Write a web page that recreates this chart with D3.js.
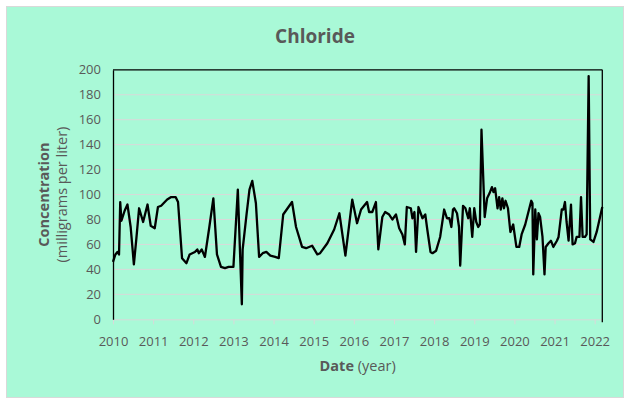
<!DOCTYPE html>
<html><head><meta charset="utf-8">
<script src="https://cdn.jsdelivr.net/npm/d3@7"></script>
<style>body{margin:0;background:#fff}svg{display:block}text{font-family:"Open Sans",sans-serif;fill:#595959}</style>
</head><body>
<script>
const title = "Chloride";
const yTicks = [0,20,40,60,80,100,120,140,160,180,200];
const xTicks = [2010,2011,2012,2013,2014,2015,2016,2017,2018,2019,2020,2021,2022];
const dates = [2010.00,2010.06,2010.11,2010.15,2010.18,2010.21,2010.29,2010.36,2010.44,2010.52,2010.58,2010.65,2010.75,2010.86,2010.94,
2011.04,2011.12,2011.20,2011.35,2011.45,2011.56,2011.62,2011.72,2011.83,2011.91,
2012.04,2012.10,2012.14,2012.21,2012.29,2012.40,2012.50,2012.59,2012.69,2012.79,2012.88,
2013.00,2013.11,2013.21,2013.23,2013.33,2013.40,2013.47,2013.56,2013.64,2013.73,2013.82,2013.92,
2014.04,2014.13,2014.24,2014.46,2014.56,2014.71,2014.81,2014.96,
2015.09,2015.16,2015.34,2015.51,2015.64,2015.79,2015.96,
2016.08,2016.18,2016.33,2016.38,2016.46,2016.55,2016.61,2016.71,2016.78,2016.88,2016.96,
2017.05,2017.13,2017.21,2017.27,2017.32,2017.42,2017.46,2017.51,2017.55,2017.61,2017.71,2017.78,2017.83,2017.91,2017.96,
2018.05,2018.15,2018.25,2018.32,2018.38,2018.43,2018.47,2018.50,2018.57,2018.62,2018.65,2018.72,2018.78,2018.85,2018.89,2018.95,
2019.00,2019.05,2019.10,2019.14,2019.18,2019.26,2019.32,2019.38,2019.44,2019.48,2019.52,2019.55,2019.58,2019.62,2019.66,2019.70,2019.74,2019.78,2019.84,2019.90,2019.97,
2020.05,2020.12,2020.18,2020.27,2020.42,2020.45,2020.47,2020.52,2020.56,2020.60,2020.64,2020.70,2020.75,2020.78,2020.85,2020.91,2020.97,
2021.06,2021.10,2021.18,2021.22,2021.26,2021.30,2021.35,2021.41,2021.45,2021.51,2021.55,2021.62,2021.66,2021.70,2021.76,2021.80,2021.85,2021.89,2021.97,
2022.05,2022.19];
const values = [46,52,54,52,94,79,87,92,74,44,64,89,78,92,75,
73,90,91,96,98,98,94,49,45,52,
54,56,53,56,50,74,97,52,42,41,42,
42,104,12,56,85,104,111,93,50,53,54,51,
50,49,84,94,74,58,57,59,
52,53,61,72,85,51,96,
77,88,94,86,86,94,56,82,86,84,80,
84,73,68,60,90,89,81,86,54,90,81,84,72,54,53,
55,66,88,81,81,74,88,89,85,74,43,91,89,81,89,66,
89,78,74,76,152,82,97,101,106,102,105,97,89,98,88,97,89,95,89,70,76,
58,58,68,76,95,93,36,88,64,85,82,66,36,58,61,63,58,
63,66,88,88,94,78,63,92,60,61,66,66,98,66,66,68,195,64,62,
70,90];

const W = 630, H = 404;
const svg = d3.select("body").append("svg").attr("width", W).attr("height", H);
svg.append("rect").attr("x",6.5).attr("y",6.5).attr("width",617).attr("height",391)
  .attr("fill","#a9f9d7").attr("stroke","#d9d9d9").attr("stroke-width",1);

const L = 113, R = 602.3, T = 69.8, B = 319.3;
const x = d3.scaleLinear().domain([2010, 2022.19]).range([L, R]);
const y = d3.scaleLinear().domain([0, 200]).range([B, T]);

// gridlines
svg.append("g").selectAll("line").data(yTicks.filter(d=>d>0 && d<200)).join("line")
  .attr("x1",L).attr("x2",R).attr("y1",d=>y(d)).attr("y2",d=>y(d))
  .attr("stroke","#d9d9d9").attr("stroke-width",1);

// x axis
const xa = svg.append("g").attr("transform",`translate(0,${B})`)
  .call(d3.axisBottom(x).tickValues(xTicks).tickFormat(d3.format("d")).tickSizeInner(5).tickSizeOuter(0).tickPadding(12));
xa.select(".domain").attr("stroke","#d9d9d9");
xa.selectAll(".tick line").attr("stroke","#d9d9d9");
xa.selectAll("text").style("font-size","13px").attr("fill","#595959");

// y axis
const ya = svg.append("g").attr("transform",`translate(${L},0)`)
  .call(d3.axisLeft(y).tickValues(yTicks).tickSize(0).tickPadding(12));
ya.select(".domain").attr("stroke","#000").attr("stroke-width",1.3);
ya.selectAll("text").style("font-size","13px").attr("fill","#595959");

// top and right border
svg.append("line").attr("x1",L).attr("x2",R).attr("y1",T).attr("y2",T).attr("stroke","#000").attr("stroke-width",1.3);
svg.append("line").attr("x1",R).attr("x2",R).attr("y1",T).attr("y2",B+3).attr("stroke","#000").attr("stroke-width",1.3);

// line
const data = dates.map((d,i)=>({t:d, v:values[i]}));
svg.append("path").datum(data)
  .attr("fill","none").attr("stroke","#000").attr("stroke-width",2.3).attr("stroke-linejoin","round")
  .attr("d", d3.line().x(d=>x(d.t)).y(d=>y(d.v)));

// titles
svg.append("text").attr("x",315).attr("y",43).attr("text-anchor","middle")
  .style("font-size","19px").style("font-weight","bold").text(title);

const xt = svg.append("text").attr("x",(L+R)/2).attr("y",371).attr("text-anchor","middle").style("font-size","14.5px");
xt.append("tspan").style("font-weight","bold").text("Date");
xt.append("tspan").text(" (year)");

const cy = (T+B)/2;
svg.append("text").attr("transform",`translate(49,${cy}) rotate(-90)`).attr("text-anchor","middle")
  .style("font-size","14.5px").style("font-weight","bold").text("Concentration");
svg.append("text").attr("transform",`translate(67,${cy}) rotate(-90)`).attr("text-anchor","middle")
  .style("font-size","14.5px").text("(milligrams per liter)");
</script>
</body></html>
